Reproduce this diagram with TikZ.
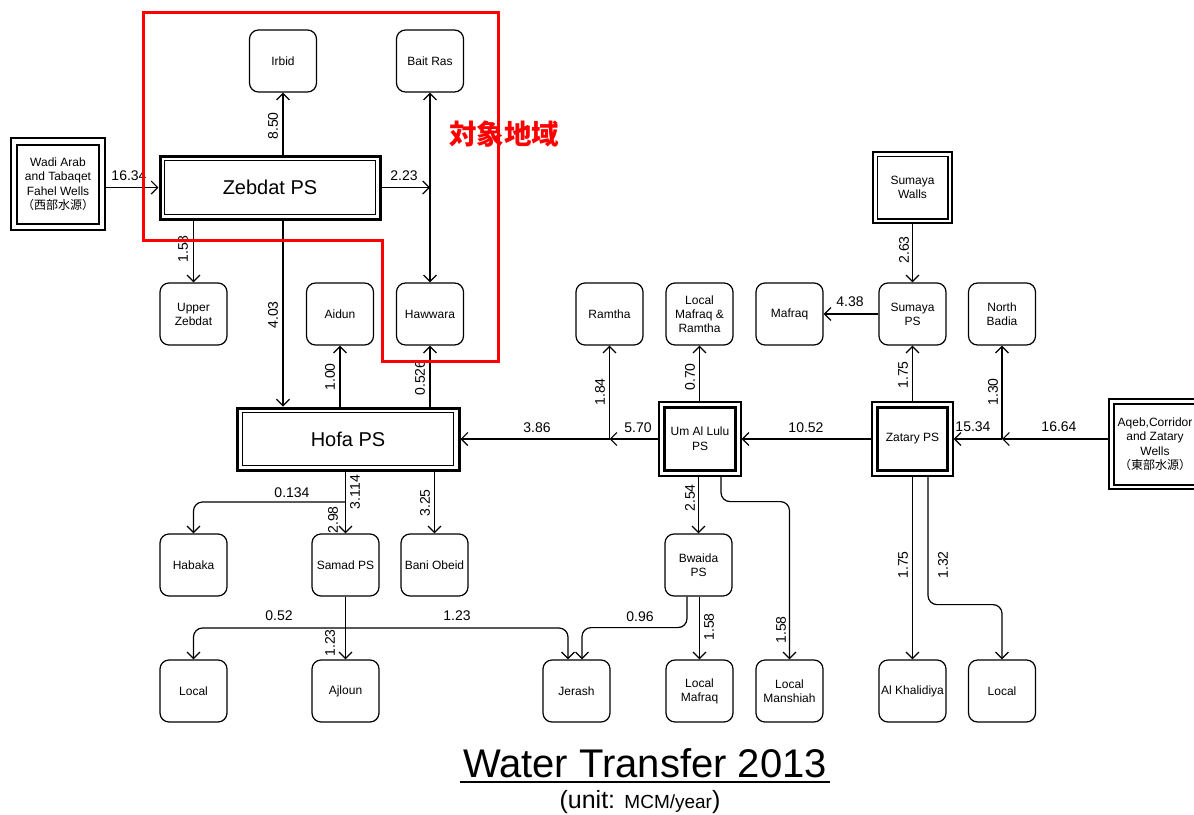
\documentclass[tikz,border=0pt]{standalone}
\usepackage{fontspec}
\setmainfont{Liberation Sans}
\newfontfamily\cjk{Noto Sans CJK JP}
\usetikzlibrary{arrows.meta}
\begin{document}
\begin{tikzpicture}[x=1pt,y=-1pt,
 box/.style={draw, line width=1.2pt, rounded corners=9pt, minimum width=67pt, minimum height=62pt, align=center, font=\fontsize{12}{14}\selectfont, inner sep=1pt},
 bigps/.style={draw, line width=3pt, align=center, font=\fontsize{20}{22}\selectfont},
 dblin/.style={line width=1.2pt},
 arr/.style={line width=1.2pt, -{Straight Barb[length=6.5pt,width=13pt,line width=1.2pt]}},
 arrb/.style={line width=1.2pt, {Straight Barb[length=6.5pt,width=13pt,line width=1.2pt]}-{Straight Barb[length=6.5pt,width=13pt,line width=1.2pt]}},
 rc/.style={rounded corners=9pt},
 lab/.style={font=\fontsize{14}{16}\selectfont, inner sep=0pt},
 vlab/.style={lab, rotate=90},
]
\useasboundingbox (0,0) rectangle (1194,814);
\fill[white] (0,0) rectangle (1194,814);

% small boxes
\node[box] (irb) at (283,61) {Irbid};
\node[box] (bait) at (430,61) {Bait Ras};
\node[box] (uz) at (193.5,314) {Upper\\Zebdat};
\node[box] (aid) at (340,314) {Aidun};
\node[box] (haw) at (430,314) {Hawwara};
\node[box] (ram) at (609.5,314) {Ramtha};
\node[box] (lmr) at (699.5,314) {Local\\Mafraq \&\\Ramtha};
\node[box] (maf) at (789.5,314) {Mafraq};
\node[box] (sps) at (912.5,314) {Sumaya\\PS};
\node[box] (nb) at (1002,314) {North\\Badia};
\node[box] (hab) at (193.5,565) {Habaka};
\node[box] (sam) at (345.5,565) {Samad PS};
\node[box] (bani) at (434.5,565) {Bani Obeid};
\node[box] (bw) at (698.5,565) {Bwaida\\PS};
\node[box] (loc1) at (193.5,691) {Local};
\node[box] (ajl) at (345.5,691) {Ajloun};
\node[box] (jer) at (576.5,691) {Jerash};
\node[box] (lmaf) at (699.5,691) {Local\\Mafraq};
\node[box] (lman) at (789.5,691) {Local\\Manshiah};
\node[box] (alk) at (912.5,691) {Al Khalidiya};
\node[box] (loc2) at (1002,691) {Local};

% pumping stations
\node[bigps, minimum width=220pt, minimum height=63pt] (zeb) at (270,187.5) {Zebdat PS};
\draw[dblin] ([shift={(6,6)}]zeb.north west) rectangle ([shift={(-6,-6)}]zeb.south east);
\node[bigps, minimum width=222pt, minimum height=62pt] (hofa) at (348,439) {Hofa PS};
\draw[dblin] ([shift={(7,6)}]hofa.north west) rectangle ([shift={(-7,-6)}]hofa.south east);

\node[draw, line width=1.2pt, minimum width=82pt, minimum height=74pt, align=center, font=\fontsize{12}{15}\selectfont] (ull) at (700,439) {Um Al Lulu\\PS};
\draw[line width=3pt] ([shift={(6.5,6)}]ull.north west) rectangle ([shift={(-6.5,-6)}]ull.south east);
\node[draw, line width=1.2pt, minimum width=81pt, minimum height=74pt, align=center, font=\fontsize{12}{15}\selectfont] (zat) at (912.5,439) {Zatary PS};
\draw[line width=3pt] ([shift={(6.5,6)}]zat.north west) rectangle ([shift={(-6.5,-6)}]zat.south east);

% sources
\node[draw, line width=2.5pt, minimum width=79pt, minimum height=71pt, align=center, font=\fontsize{12}{14}\selectfont] (sw) at (912.5,187.5) {Sumaya\\Walls};
\draw[line width=1.5pt] ([shift={(5.5,5.5)}]sw.north west) rectangle ([shift={(-5.5,-5.5)}]sw.south east);
\node[draw, line width=2pt, minimum width=94pt, minimum height=92pt, align=center, font=\fontsize{12}{14.5}\selectfont] (wadi) at (58,184) {Wadi Arab\\and Tabaqet\\Fahel Wells\\{\cjk\fontsize{12}{14}\selectfont （西部水源）}};
\draw[line width=2pt] ([shift={(7,7.5)}]wadi.north west) rectangle ([shift={(-7,-7.5)}]wadi.south east);
\node[draw, line width=2pt, minimum width=92pt, minimum height=90pt, align=center, font=\fontsize{12}{14.5}\selectfont, inner sep=1pt] (aq) at (1155,444) {Aqeb,Corridor\\and Zatary\\Wells\\{\cjk\fontsize{12}{14}\selectfont （東部水源）}};
\draw[line width=2pt] ([shift={(5.5,5.5)}]aq.north west) rectangle ([shift={(-5.5,-5.5)}]aq.south east);

% junctions
\coordinate (jb) at (bait.south |- zeb.east);
\coordinate (jr) at (ram.south |- ull.west);
\coordinate (jn) at (nb.south |- zat.east);
\coordinate (jh) at (345.5,502);
\coordinate (js) at (345.5,628);

% connectors
\draw[arr] (wadi.east |- zeb.west) -- (zeb.west);
\draw[arr] (irb.south |- zeb.north) -- (irb.south);
\draw[arr] (zeb.east) -- (jb);
\draw[arrb] (bait.south) -- (haw.north);
\draw[arr] (uz.north |- zeb.south) -- (uz.north);
\draw[arr] (zeb.south -| irb.south) -- (hofa.north -| irb.south);
\draw[arr] (aid.south |- hofa.north) -- (aid.south);
\draw[arr] (haw.south |- hofa.north) -- (haw.south);
\draw[arr] (sam.north |- hofa.south) -- (sam.north);
\draw[arr, rc] (jh) -| (hab.north);
\draw[arr] (bani.north |- hofa.south) -- (bani.north);
\draw[arr] (ajl.north |- sam.south) -- (ajl.north);
\draw[arr, rc] (js) -| (loc1.north);
\draw[arr, rc] (js) -| ([xshift=-8.5pt]jer.north);
\draw[arr, rc] ([xshift=-11.5pt]bw.south) -- ++(0,31) -| ([xshift=5.5pt]jer.north);
\draw[arr] (lmaf.north |- bw.south) -- (lmaf.north);
\draw[arr] (bw.north |- ull.south) -- (bw.north);
\draw[arr, rc] ([xshift=21pt]ull.south) -- ++(0,25) -| (lman.north);
\draw[arr] (lmr.south |- ull.north) -- (lmr.south);
\draw[arr] (ull.west) -- (jr);
\draw[arr] (jr) -- (hofa.east |- jr);
\draw[arr] (jr) -- (ram.south);
\draw[arr] (zat.west) -- (ull.east);
\draw[arr] (sps.south |- zat.north) -- (sps.south);
\draw[arr] (sw.south) -- (sps.north);
\draw[arr] (sps.west) -- (maf.east);
\draw[arr] (aq.west |- jn) -- (jn);
\draw[arr] (jn) -- (zat.east);
\draw[arr] (jn) -- (nb.south);
\draw[arr] (alk.north |- zat.south) -- (alk.north);
\draw[arr, rc] ([xshift=15.5pt]zat.south) -- ++(0,128) -| (loc2.north);

% labels
\node[lab] (t1) at (129,176) {16.34};
\node[vlab] (t2) at (273,126) {8.50};
\node[lab] (t3) at (404,176) {2.23};
\node[vlab] (t4) at (183,249) {1.58};
\node[vlab] (t5) at (273,315) {4.03};
\node[vlab] (t6) at (330,377) {1.00};
\node[vlab] (t7) at (420,378) {0.526};
\node[lab] (t8) at (537,428) {3.86};
\node[lab] (t9) at (638,428) {5.70};
\node[vlab] (t10) at (600,392) {1.84};
\node[vlab] (t11) at (690,377) {0.70};
\node[lab] (t12) at (806,428) {10.52};
\node[lab] (t13) at (973,427) {15.34};
\node[lab] (t14) at (1059,427) {16.64};
\node[vlab] (t15) at (993,392) {1.30};
\node[vlab] (t16) at (903,375) {1.75};
\node[vlab] (t17) at (904,250) {2.63};
\node[lab] (t18) at (850,302) {4.38};
\node[lab] (t19) at (292,493) {0.134};
\node[vlab] (t20) at (355,492) {3.114};
\node[vlab] (t21) at (333,520) {2.98};
\node[vlab] (t22) at (425,503) {3.25};
\node[lab] (t23) at (279,616) {0.52};
\node[lab] (t24) at (457,616) {1.23};
\node[vlab] (t25) at (330,643) {1.23};
\node[vlab] (t26) at (690,498) {2.54};
\node[lab] (t27) at (640,617) {0.96};
\node[vlab] (t28) at (709,627) {1.58};
\node[vlab] (t29) at (781,630) {1.58};
\node[vlab] (t30) at (903,565) {1.75};
\node[vlab] (t31) at (943,565) {1.32};

% target area
\draw[red, line width=3pt] (143,12) -- (498,12) -- (498,361) -- (382,361) -- (382,240) -- (143,240) -- cycle;
\node[text=red, font=\cjk\bfseries\fontsize{27.5}{29}\selectfont, inner sep=0pt] (area) at (504,134) {対象地域};

% title
\node[anchor=base, font=\fontsize{40}{44}\selectfont, inner sep=0pt] (title) at (645,777) {Water Transfer 2013};
\coordinate (ulL) at (460,782);
\coordinate (ulR) at (830,782);
\draw[line width=1.5pt] (ulL) -- (ulR);
\node[anchor=base, inner sep=0pt] (unit) at (640,808) {\fontsize{25}{28}\selectfont(unit: \fontsize{19}{28}\selectfont MCM/year\fontsize{25}{28}\selectfont)};
\end{tikzpicture}
\end{document}
